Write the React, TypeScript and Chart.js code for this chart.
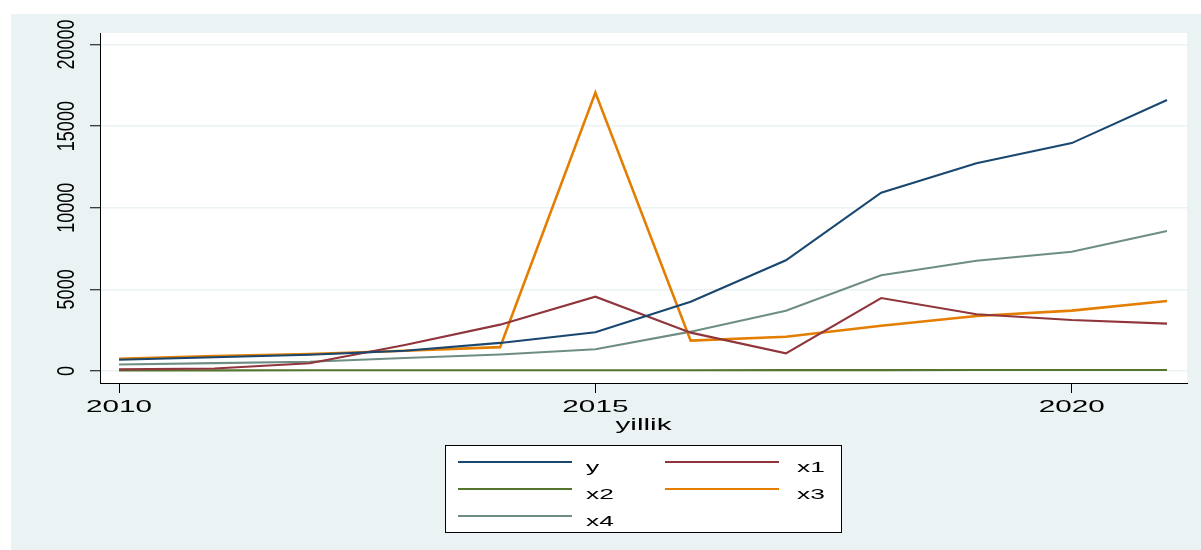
import React, { useEffect, useRef } from "react";
import { Chart, registerables } from "chart.js";

Chart.register(...registerables);

// ---- data ----
const years = [2010, 2011, 2012, 2013, 2014, 2015, 2016, 2017, 2018, 2019, 2020, 2021];
const seriesY = [690, 840, 1000, 1240, 1720, 2370, 4245, 6780, 10920, 12720, 13960, 16600];
const seriesX1 = [100, 150, 470, 1590, 2840, 4550, 2350, 1080, 4470, 3480, 3120, 2900];
const seriesX2 = [40, 40, 45, 45, 50, 50, 50, 55, 55, 60, 60, 60];
const seriesX3 = [755, 920, 1040, 1245, 1460, 17050, 1860, 2100, 2770, 3370, 3700, 4290];
const seriesX4 = [400, 480, 570, 800, 1010, 1330, 2410, 3690, 5860, 6750, 7300, 8570];
const seriesNames = ["y", "x1", "x2", "x3", "x4"];
const yTickValues = [0, 5000, 10000, 15000, 20000];
const xTickValues = [2010, 2015, 2020];
const xTitle = "yillik";

// ---- styles ----
const seriesColors = ["#1a476f", "#90353b", "#55752f", "#e37e00", "#6e8e84"];
const seriesWidths = [2.1, 2.1, 2.1, 2.6, 2.1];
const BG = "#eaf2f3";
const FONT = '"Liberation Sans", Arial, Helvetica, sans-serif';

function stretchedText(
  ctx: CanvasRenderingContext2D,
  text: string,
  x: number,
  y: number,
  size: number,
  sx: number,
  align: CanvasTextAlign
) {
  ctx.save();
  ctx.translate(x, y);
  ctx.scale(sx, 1);
  ctx.font = `${size}px ${FONT}`;
  ctx.textAlign = align;
  ctx.textBaseline = "alphabetic";
  ctx.fillStyle = "#000";
  ctx.fillText(text, 0, 0);
  ctx.restore();
}

const stataPlugin = {
  id: "stataLook",
  beforeDraw(chart: any) {
    const { ctx, chartArea } = chart;
    ctx.save();
    ctx.fillStyle = "#ffffff";
    ctx.fillRect(0, 0, chart.width, chart.height);
    ctx.fillStyle = BG;
    ctx.fillRect(11, 14, chart.width - 11, chart.height - 14);
    ctx.fillStyle = "#ffffff";
    ctx.fillRect(chartArea.left, chartArea.top, chartArea.right - chartArea.left, chartArea.bottom - chartArea.top);
    ctx.restore();
  },
  afterDraw(chart: any) {
    const { ctx, chartArea } = chart;
    const xs = chart.scales.x;
    const ys = chart.scales.y;
    // y tick labels (rotated)
    yTickValues.forEach((v) => {
      const py = ys.getPixelForValue(v);
      ctx.save();
      ctx.translate(74.3, py);
      ctx.scale(1.37, 1);
      ctx.rotate(-Math.PI / 2);
      ctx.font = `18px ${FONT}`;
      ctx.textAlign = "center";
      ctx.textBaseline = "alphabetic";
      ctx.fillStyle = "#000";
      ctx.fillText(String(v), 0, 0);
      ctx.restore();
    });
    // x tick labels
    xTickValues.forEach((v) => {
      const px = xs.getPixelForValue(v);
      stretchedText(ctx, String(v), px, 411.5, 16.5, 1.8, "center");
    });
    // x title
    stretchedText(ctx, xTitle, (chartArea.left + chartArea.right) / 2, 429.5, 16.5, 1.8, "center");

    // legend
    const box = { l: 445, t: 445, r: 842, b: 533 };
    ctx.save();
    ctx.fillStyle = "#ffffff";
    ctx.fillRect(box.l, box.t, box.r - box.l, box.b - box.t);
    ctx.strokeStyle = "#000";
    ctx.lineWidth = 1;
    ctx.strokeRect(box.l + 0.5, box.t + 0.5, box.r - box.l - 1, box.b - box.t - 1);
    ctx.restore();
    const rowY = [462, 489, 516];
    const colLine = [
      [458, 572],
      [665, 779],
    ];
    const colText = [586, 797];
    chart.data.datasets.forEach((ds: any, i: number) => {
      const col = i % 2;
      const row = Math.floor(i / 2);
      const y = rowY[row];
      ctx.save();
      ctx.strokeStyle = ds.borderColor;
      ctx.lineWidth = 2;
      ctx.beginPath();
      ctx.moveTo(colLine[col][0], y);
      ctx.lineTo(colLine[col][1], y);
      ctx.stroke();
      ctx.restore();
      stretchedText(ctx, ds.label, colText[col], y + 9.5, 15.5, 1.7, "left");
    });
  },
};

export default function App() {
  const canvasRef = useRef<HTMLCanvasElement | null>(null);

  useEffect(() => {
    const canvas = canvasRef.current;
    if (!canvas) return;
    const all = [seriesY, seriesX1, seriesX2, seriesX3, seriesX4];
    const chart = new Chart(canvas, {
      type: "line",
      data: {
        datasets: all.map((vals, i) => ({
          label: seriesNames[i],
          data: years.map((yr, j) => ({ x: yr, y: vals[j] })),
          borderColor: seriesColors[i],
          backgroundColor: seriesColors[i],
          borderWidth: seriesWidths[i],
          pointRadius: 0,
          tension: 0,
          fill: false,
        })),
      },
      options: {
        responsive: false,
        animation: false,
        devicePixelRatio: 1,
        layout: { padding: { left: 0, right: 14, top: 33, bottom: 0 } },
        plugins: {
          legend: { display: false },
          tooltip: { enabled: false },
        },
        scales: {
          x: {
            type: "linear",
            min: 2009.8,
            max: 2021.21,
            afterBuildTicks: (s: any) => {
              s.ticks = xTickValues.map((v) => ({ value: v }));
            },
            afterFit: (s: any) => {
              s.height = 167;
            },
            ticks: { display: false },
            grid: {
              drawOnChartArea: false,
              drawTicks: true,
              tickLength: 10,
              tickColor: "#000",
              tickWidth: 1,
            },
            border: { display: true, color: "#000", width: 1 },
          },
          y: {
            type: "linear",
            min: -735,
            max: 20704,
            afterBuildTicks: (s: any) => {
              s.ticks = yTickValues.map((v) => ({ value: v }));
            },
            afterFit: (s: any) => {
              s.width = 100;
            },
            ticks: { display: false },
            grid: {
              color: BG,
              lineWidth: 1.5,
              drawTicks: true,
              tickLength: 10,
              tickColor: "#000",
              tickWidth: 1,
            },
            border: { display: true, color: "#000", width: 1 },
          },
        },
      },
      plugins: [stataPlugin],
    } as any);
    return () => chart.destroy();
  }, []);

  return (
    <div style={{ position: "fixed", left: 0, top: 0, width: 1201, height: 550, background: "#fff" }}>
      <canvas ref={canvasRef} width={1201} height={550} style={{ width: 1201, height: 550, display: "block" }} />
    </div>
  );
}
